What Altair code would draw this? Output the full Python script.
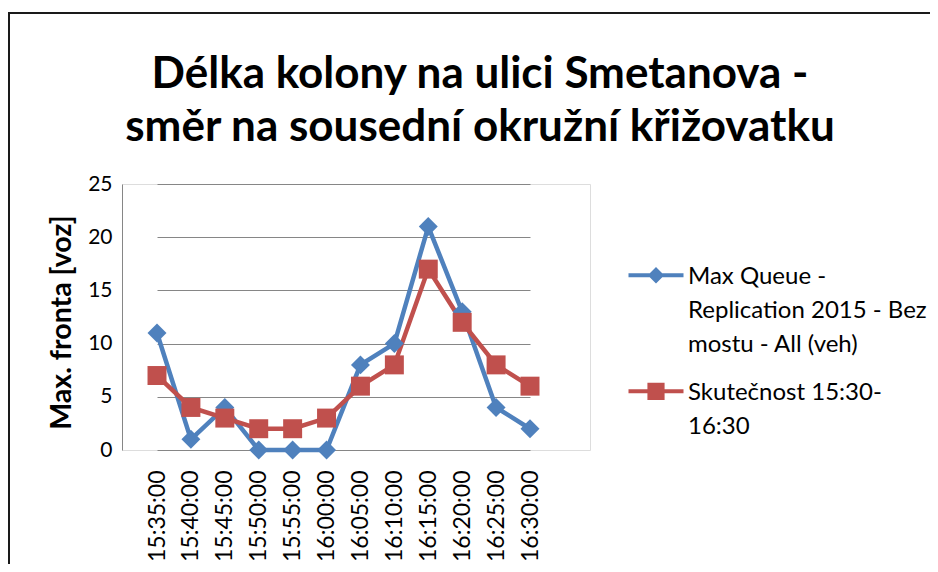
import json
import altair as alt
import pandas as pd

# ---- data ----
times = ["15:35:00", "15:40:00", "15:45:00", "15:50:00", "15:55:00", "16:00:00",
         "16:05:00", "16:10:00", "16:15:00", "16:20:00", "16:25:00", "16:30:00"]
sim_values = [11, 1, 4, 0, 0, 0, 8, 10, 21, 13, 4, 2]
real_values = [7, 4, 3, 2, 2, 3, 6, 8, 17, 12, 8, 6]
series_names = ["Max Queue - Replication 2015 - Bez mostu - All (veh)",
                "Skutečnost 15:30-16:30"]
legend_lines = [["Max Queue -", "Replication 2015 - Bez", "mostu - All (veh)"],
                ["Skutečnost 15:30-", "16:30"]]
series_colors = ["#4F81BD", "#C0504D"]
series_shapes = ["diamond", "square"]
y_ticks = [0, 5, 10, 15, 20, 25]
title_lines = ["Délka kolony na ulici Smetanova -", "směr na sousední okružní křižovatku"]
y_title = "Max. fronta [voz]"

FONT = "Lato"
GRID = "#868686"

rows = []
for name, vals in zip(series_names, [sim_values, real_values]):
    for t, v in zip(times, vals):
        rows.append({"time": t, "value": v, "series": name})
df = pd.DataFrame(rows)

# legend symbols: line segment + marker (custom paths in symbol units)
dy = 0.94
lh = 0.18
d = 0.75
s = 0.78
blue_path = (f"M-2.5,{dy-lh}H2.5V{dy+lh}H-2.5Z"
             f"M0,{dy-d}L{d},{dy}L0,{dy+d}L-{d},{dy}Z")
red_path = (f"M-2.5,{dy-lh}H2.5V{dy+lh}H-2.5Z"
            f"M-{s},{dy-s}H{s}V{dy+s}H-{s}Z")

label_expr = (f"datum.label == {json.dumps(series_names[0], ensure_ascii=False)} ? "
              f"{json.dumps(legend_lines[0], ensure_ascii=False)} : "
              f"{json.dumps(legend_lines[1], ensure_ascii=False)}")

legend = alt.Legend(
    orient="none", legendX=522, legendY=69, title=None,
    labelExpr=label_expr, labelFont=FONT, labelFontSize=24, labelColor="black",
    labelBaseline="top", labelLimit=400, labelOffset=20,
    symbolSize=484, symbolStrokeWidth=0, symbolOpacity=1,
    rowPadding=12, padding=0,
)

x_enc = alt.X(
    "time:O",
    scale=alt.Scale(type="point", domain=times, range=[35, 408], padding=0),
    axis=alt.Axis(title=None, labelAngle=270, ticks=False, grid=False, domain=False,
                  labelPadding=20, labelFont=FONT, labelFontSize=23, labelColor="black"),
)
y_enc = alt.Y(
    "value:Q",
    scale=alt.Scale(domain=[0, 25], nice=False, zero=True),
    axis=alt.Axis(values=y_ticks, title=y_title, titleFont=FONT, titleFontSize=28.5,
                  titleFontWeight="bold", titleColor="black", titlePadding=11, titleY=138,
                  labelFont=FONT, labelFontSize=21, labelColor="black",
                  labelPadding=10, ticks=False, grid=True, gridColor=GRID,
                  gridWidth=1, domainColor=GRID, domainWidth=1),
)
color_scale = alt.Scale(domain=series_names, range=series_colors)

legend_layer = alt.Chart(df).transform_filter("false").mark_point(
    filled=True, opacity=1
).encode(
    x=x_enc, y=y_enc,
    color=alt.Color("series:N", scale=color_scale, legend=legend),
    shape=alt.Shape("series:N",
                    scale=alt.Scale(domain=series_names, range=[blue_path, red_path]),
                    legend=legend),
)

series_layers = []
for name, col, shp in zip(series_names, series_colors, series_shapes):
    base = alt.Chart(df).transform_filter(alt.datum.series == name)
    series_layers.append(base.mark_line(strokeWidth=4.5, color=col).encode(x=x_enc, y=y_enc))
for name, col, shp in zip(series_names, series_colors, series_shapes):
    base = alt.Chart(df).transform_filter(alt.datum.series == name)
    series_layers.append(
        base.mark_point(shape=shp, filled=True, size=360, opacity=1, color=col)
        .encode(x=x_enc, y=y_enc)
    )

frame_top = alt.Chart(df).mark_rule(color="#1a1a1a", strokeWidth=2).encode(
    x=alt.value(-113.5), x2=alt.value(808), y=alt.value(-171)
)
frame_left = alt.Chart(df).mark_rule(color="#1a1a1a", strokeWidth=2).encode(
    x=alt.value(-113), y=alt.value(-171), y2=alt.value(380)
)

chart = alt.layer(legend_layer, frame_top, frame_left, *series_layers).properties(
    width=468, height=266,
    autosize=alt.AutoSizeParams(type="none"),
    padding={"left": 114, "top": 176, "right": 340, "bottom": 114},
    title=alt.TitleParams(
        text=title_lines, font=FONT, fontSize=44, fontWeight="bold", color="black",
        anchor="middle", frame="group", dx=124, dy=168, offset=30, lineHeight=53,
    ),
).configure_view(stroke=None).configure(
    background="white",
    style={"guide-label": {"lineHeight": 34}},
)

chart.save("out.html", embed_options={"renderer": "svg", "actions": False})
